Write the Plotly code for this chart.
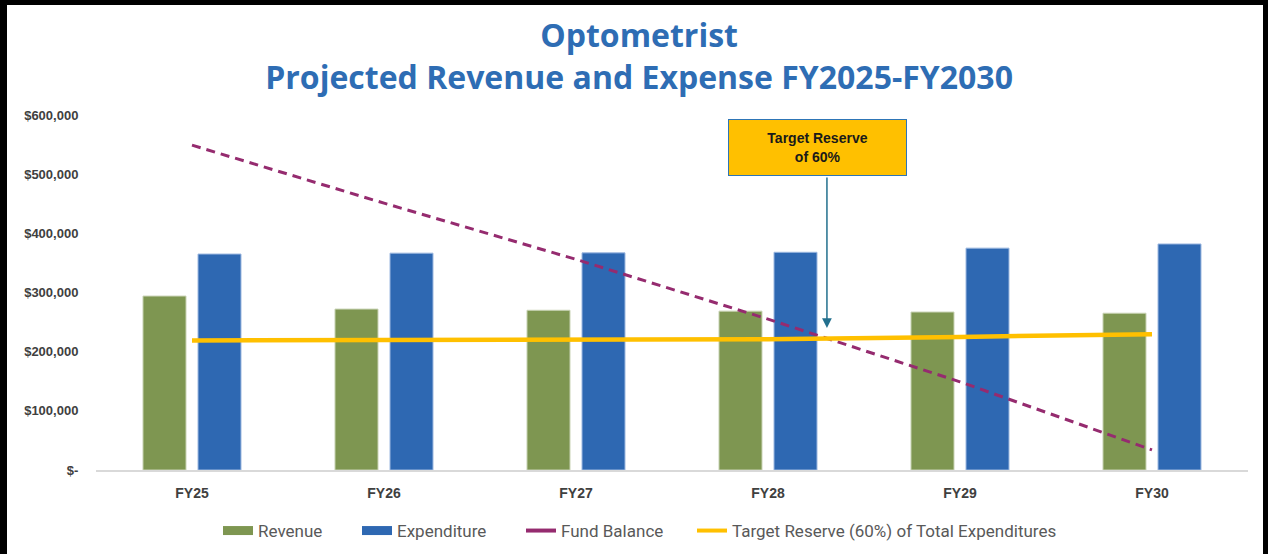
import plotly.graph_objects as go

categories = ["FY25", "FY26", "FY27", "FY28", "FY29", "FY30"]
revenue = [294000, 272000, 270000, 268500, 267000, 265000]
expenditure = [365000, 366500, 367000, 368000, 375000, 382000]
fund_balance = [549000, 451000, 356000, 255000, 149000, 34000]
target_reserve = [219000, 220000, 220500, 221000, 225000, 229500]

y_tick_vals = [0, 100000, 200000, 300000, 400000, 500000, 600000]
y_tick_text = ["$-", "$100,000", "$200,000", "$300,000", "$400,000", "$500,000", "$600,000"]

REV_C = "#7E9651"
EXP_C = "#2E68B2"
FUND_C = "#952B6F"
TGT_C = "#FFC000"

fig = go.Figure()
fig.add_trace(go.Bar(x=categories, y=revenue, name="Revenue", marker=dict(color=REV_C, line=dict(color="#C9D3B5", width=1)), showlegend=False))
fig.add_trace(go.Bar(x=categories, y=expenditure, name="Expenditure", marker=dict(color=EXP_C, line=dict(color="#9DB8E0", width=1)), showlegend=False))
fig.add_trace(go.Scatter(x=categories, y=fund_balance, name="Fund Balance", mode="lines", line=dict(color=FUND_C, width=3, dash="9px,6px"), showlegend=False))
fig.add_trace(go.Scatter(x=categories, y=target_reserve, name="Target Reserve (60%) of Total Expenditures", mode="lines", line=dict(color=TGT_C, width=4.5), showlegend=False))

# legend entries (rectangular swatches like the original)
fig.add_trace(go.Scatter(x=[None], y=[None], mode="lines", name="Revenue", line=dict(color=REV_C, width=9), legendwidth=94))
fig.add_trace(go.Scatter(x=[None], y=[None], mode="lines", name="Expenditure", line=dict(color=EXP_C, width=9), legendwidth=119))
fig.add_trace(go.Scatter(x=[None], y=[None], mode="lines", name="Fund Balance", line=dict(color=FUND_C, width=4), legendwidth=126))
fig.add_trace(go.Scatter(x=[None], y=[None], mode="lines", name="Target Reserve (60%) of Total Expenditures", line=dict(color=TGT_C, width=4), legendwidth=335))

W, H = 1268, 554
L, R, T, B = 96, 20, 115, 84
pw, ph = W - L - R, H - T - B

def px_x(p):
    return (p - L) / pw

def px_y(p):
    return (H - B - p) / ph

fig.update_layout(
    width=W, height=H,
    margin=dict(l=L, r=R, t=T, b=B, autoexpand=False),
    paper_bgcolor="white", plot_bgcolor="white",
    barmode="group", bargap=0.427, bargroupgap=0.218,
    title=dict(
        text="<b>Optometrist<br>Projected Revenue and Expense FY2025-FY2030</b>",
        x=0.504, xanchor="center", xref="container",
        y=1 - 47 / H, yanchor="middle", yref="container",
        font=dict(family="Open Sans, Lato, sans-serif", size=32, color="#2E6DB4"),
    ),
    xaxis=dict(
        showgrid=False, showline=True, linecolor="#D9D9D9", linewidth=1.5,
        ticks="outside", ticklen=9, tickcolor="rgba(0,0,0,0)",
        tickfont=dict(family="Liberation Sans, Arial, sans-serif", size=14, color="#404040", weight="bold"),
        zeroline=False,
    ),
    yaxis=dict(
        range=[0, 600000], tickvals=y_tick_vals, ticktext=y_tick_text,
        showgrid=False, zeroline=False, showline=False,
        ticks="outside", ticklen=14, tickcolor="rgba(0,0,0,0)",
        tickfont=dict(family="Liberation Sans, Arial, sans-serif", size=13, color="#404040", weight="bold"),
    ),
    legend=dict(
        orientation="h", x=px_x(218), xanchor="left", y=px_y(531), yanchor="middle",
        font=dict(family="Roboto, sans-serif", size=17, color="#595959"),
        bgcolor="rgba(0,0,0,0)",
    ),
)

# label box
fig.add_annotation(
    x=px_x(817), y=px_y(147), xref="paper", yref="paper",
    xanchor="center", yanchor="middle",
    text="<b>Target Reserve<br>of 60%</b>", showarrow=False,
    bgcolor=TGT_C, bordercolor="#2E75B6", borderwidth=1,
    width=175, height=53,
    font=dict(family="Liberation Sans, Arial, sans-serif", size=14, color="#1A1A1A"),
)
# vertical arrow from the box down to the target line
fig.add_annotation(
    x=3.307, y=240000, xref="x", yref="y",
    ax=0, ay=-152, text="", showarrow=True,
    arrowhead=2, arrowsize=1.3, arrowwidth=1.5, arrowcolor="#23708E",
)

# black frame around the picture (top, left, right)
frame = [
    (0, 0, W, 5),
    (0, 0, 7, H),
    (W - 5, 0, W, H),
]
for x0, y0, x1, y1 in frame:
    fig.add_shape(type="rect", xref="paper", yref="paper",
                  x0=px_x(x0), x1=px_x(x1), y0=px_y(y1), y1=px_y(y0),
                  fillcolor="black", line=dict(width=0), layer="above")

fig.write_html(
    "out.html",
    config={"displayModeBar": False},
    post_script="document.body.style.margin='0px';document.body.style.overflow='hidden';",
)
